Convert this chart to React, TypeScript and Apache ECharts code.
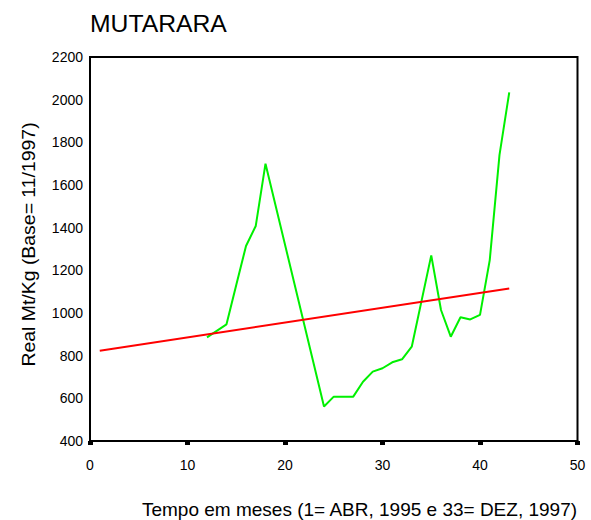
import React, { useEffect, useRef } from "react";
import * as echarts from "echarts";

const titleText = "MUTARARA";
const xAxisTitle = "Tempo em meses (1= ABR, 1995 e 33= DEZ, 1997)";
const yAxisTitle = "Real Mt/Kg (Base= 11/1997)";

// Green series: real price by month
const priceMonths = [12, 14, 15, 16, 17, 18, 24, 25, 26, 27, 28, 29, 30, 31, 32, 33, 35, 36, 37, 38, 39, 40, 41, 42, 43];
const priceValues = [886, 947, 1131, 1314, 1408, 1700, 562, 608, 608, 608, 678, 725, 741, 769, 783, 842, 1270, 1014, 889, 980, 970, 991, 1248, 1741, 2034];

// Red series: trend line end points
const trendMonths = [1, 43];
const trendValues = [823, 1115];

const xMin = 0;
const xMax = 50;
const xStep = 10;
const yMin = 400;
const yMax = 2200;
const yStep = 200;

const FONT = "'Liberation Sans', Arial, sans-serif";

export default function App() {
  const ref = useRef<HTMLDivElement>(null);

  useEffect(() => {
    document.body.style.margin = "0";
    if (!ref.current) return;
    const chart = echarts.init(ref.current, undefined, { renderer: "svg" });
    const option = {
      animation: false,
      backgroundColor: "#ffffff",
      grid: {
        left: 90,
        right: 13.5,
        top: 57,
        bottom: 79,
        show: true,
        borderColor: "#000",
        borderWidth: 2,
        backgroundColor: "transparent",
      },
      xAxis: {
        type: "value",
        min: xMin,
        max: xMax,
        interval: xStep,
        splitLine: { show: false },
        axisLine: { show: true, lineStyle: { color: "#000", width: 2 } },
        axisTick: { show: true, length: 4, lineStyle: { color: "#000", width: 5 } },
        axisLabel: {
          color: "#000",
          fontSize: 14,
          fontFamily: FONT,
          margin: 17,
          formatter: (v: number) => String(v),
        },
      },
      yAxis: {
        type: "value",
        min: yMin,
        max: yMax,
        interval: yStep,
        splitLine: { show: false },
        axisLine: { show: true, lineStyle: { color: "#000", width: 2 } },
        axisTick: { show: false },
        axisLabel: {
          color: "#000",
          fontSize: 14,
          fontFamily: FONT,
          margin: 7,
          formatter: (v: number) => String(v),
        },
      },
      graphic: [
        {
          type: "text",
          x: 90,
          y: 23.5,
          scaleX: 1.03,
          style: {
            text: titleText,
            fontSize: 24,
            fontFamily: FONT,
            fill: "#000",
            textAlign: "left",
            textVerticalAlign: "middle",
          },
        },
        {
          type: "text",
          x: 359.5,
          y: 509,
          style: {
            text: xAxisTitle,
            fontSize: 19,
            fontFamily: FONT,
            fill: "#000",
            textAlign: "center",
            textVerticalAlign: "middle",
          },
        },
        {
          type: "text",
          x: 28.5,
          y: 244.5,
          rotation: Math.PI / 2,
          scaleX: 1.08,
          style: {
            text: yAxisTitle,
            fontSize: 18,
            fontFamily: FONT,
            fill: "#000",
            textAlign: "center",
            textVerticalAlign: "middle",
          },
        },
      ],
      series: [
        {
          type: "line",
          name: "Preço",
          data: priceMonths.map((m, i) => [m, priceValues[i]]),
          showSymbol: false,
          symbol: "none",
          lineStyle: { color: "#00f000", width: 2 },
          itemStyle: { color: "#00f000" },
        },
        {
          type: "line",
          name: "Tendência",
          data: trendMonths.map((m, i) => [m, trendValues[i]]),
          showSymbol: false,
          symbol: "none",
          lineStyle: { color: "#ff0000", width: 2 },
          itemStyle: { color: "#ff0000" },
        },
      ],
    };
    chart.setOption(option);
    return () => {
      chart.dispose();
    };
  }, []);

  return (
    <div
      ref={ref}
      style={{ position: "absolute", left: 0, top: 0, width: 591, height: 520 }}
    />
  );
}
